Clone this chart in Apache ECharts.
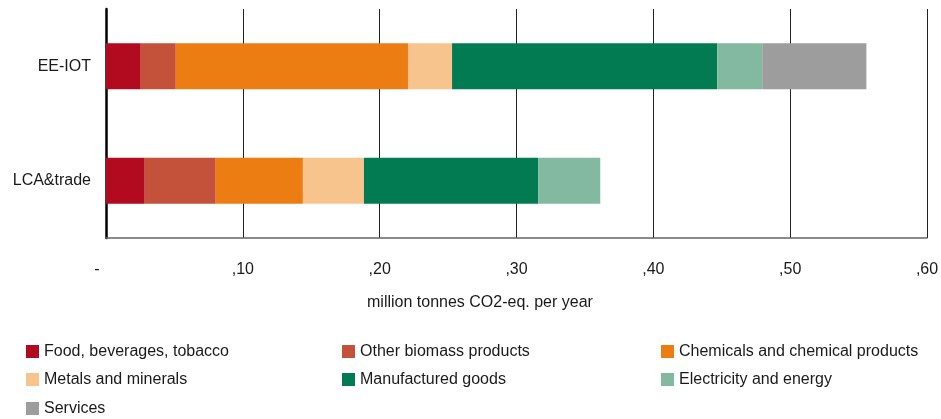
<!DOCTYPE html>
<html><head><meta charset="utf-8">
<script src="https://cdn.jsdelivr.net/npm/echarts@6/dist/echarts.min.js"></script>
<style>html,body{margin:0;padding:0;background:#fff}#c{width:941px;height:419px}</style>
</head><body><div id="c"></div>
<script>
const categories = ['LCA&trade', 'EE-IOT'];
const seriesNames = ['Food, beverages, tobacco','Other biomass products','Chemicals and chemical products','Metals and minerals','Manufactured goods','Electricity and energy','Services'];
const food = [2.83, 2.54];
const otherBiomass = [5.19, 2.56];
const chemicals = [6.37, 16.97];
const metals = [4.46, 3.22];
const manufactured = [12.73, 19.38];
const electricity = [4.54, 3.29];
const services = [0, 7.61];
const tickValues = [0, 10, 20, 30, 40, 50, 60];
const tickLabels = ['-', ',10', ',20', ',30', ',40', ',50', ',60'];
const colors = ['#B20A1F','#C4513A','#EC7D12','#F8C48E','#027B52','#83B9A0','#9D9D9D'];
const values = [food, otherBiomass, chemicals, metals, manufactured, electricity, services];

const FONT = '"Liberation Sans", Arial, sans-serif';
const TXT = '#1a1a1a';
const chart = echarts.init(document.getElementById('c'), null, {renderer: 'canvas'});
// legend layout: [column-left, row-center]
const legendPos = [[26,351.5],[342,351.5],[661,351.5],[26,379.5],[342,379.5],[661,379.5],[26,408.5]];
const legends = seriesNames.map((n,i)=>({
  orient:'vertical', icon:'rect', itemWidth:13, itemHeight:13, itemGap:0, padding:0,
  left:legendPos[i][0], top:legendPos[i][1]-8, data:[n], selectedMode:false,
  textStyle:{fontFamily:FONT, fontSize:16, color:TXT, lineHeight:16}
}));
chart.setOption({
  animation:false,
  textStyle:{fontFamily:FONT},
  grid:{left:106, right:14, top:9, bottom:181, containLabel:false, outerBoundsMode:'none'},
  xAxis:{type:'value', min:0, max:60, interval:10,
    axisLine:{show:true, lineStyle:{color:'#666', width:1.5}},
    axisTick:{show:false},
    splitLine:{show:true, lineStyle:{color:'#222', width:1}},
    axisLabel:{margin:24, fontFamily:FONT, fontSize:16, color:TXT,
      formatter:function(v){ const i = tickValues.indexOf(v); const t = i>=0 ? tickLabels[i] : ''; return v===0 ? '{d|'+t+'}' : t; },
      rich:{d:{fontFamily:FONT, fontSize:16, color:TXT, padding:[0,18,0,0]}}}
  },
  yAxis:{type:'category', data:categories,
    axisLine:{show:true, lineStyle:{color:'#000', width:2.5}},
    axisTick:{show:false},
    axisLabel:{margin:15, fontFamily:FONT, fontSize:16, color:TXT}
  },
  graphic:[{type:'text', left:367, top:295,
    style:{text:'million tonnes CO2-eq. per year', font:'16px '+FONT, fill:TXT}}],
  legend:legends,
  series: seriesNames.map((n,i)=>({name:n, type:'bar', stack:'total', barWidth:46,
    itemStyle:{color:colors[i]}, data:values[i]}))
});
</script></body></html>
